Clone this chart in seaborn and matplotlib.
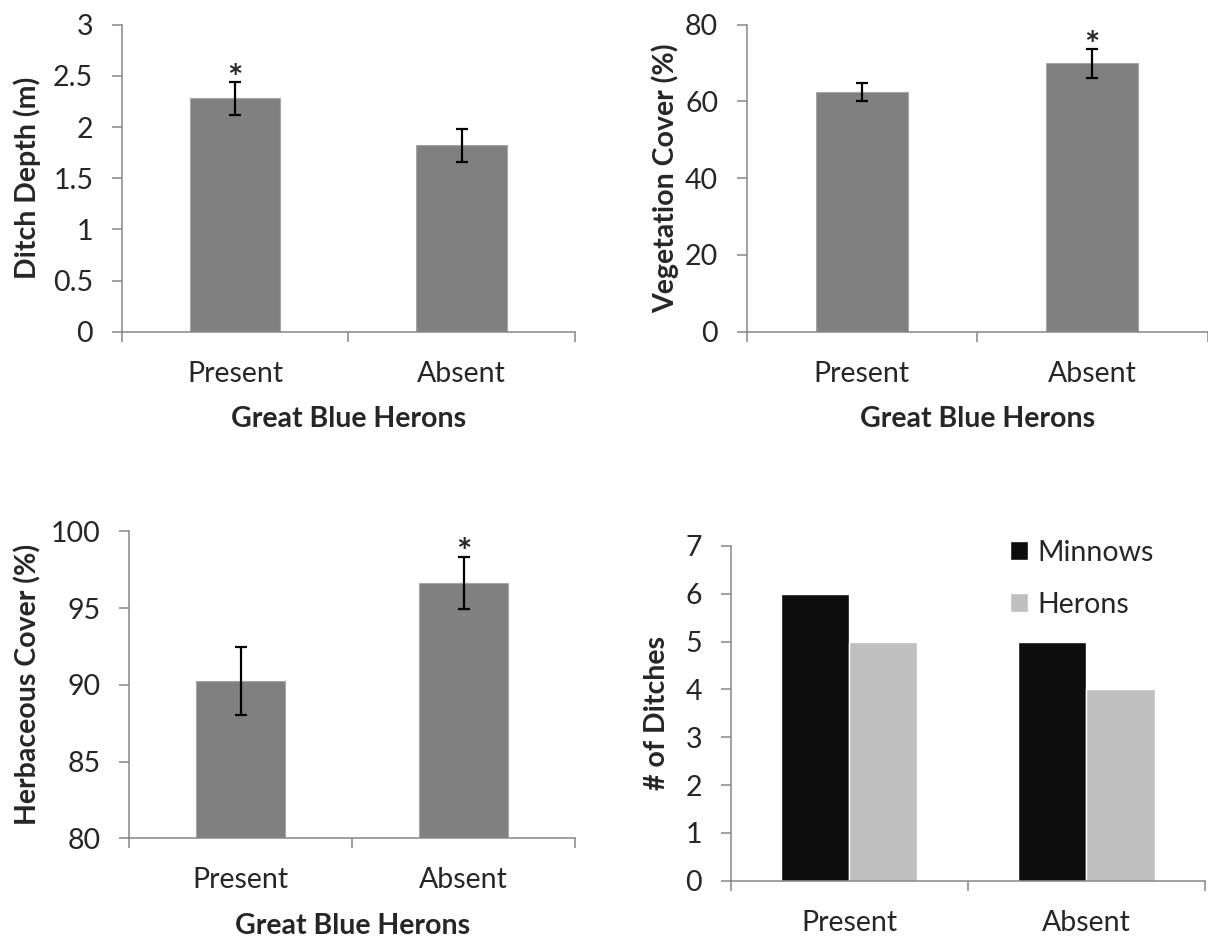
import matplotlib
matplotlib.use("Agg")
import matplotlib.pyplot as plt
import matplotlib.ticker as mticker
import numpy as np
import pandas as pd
import seaborn as sns

# ---------------- data ----------------
categories = ["Present", "Absent"]

depth_mean = [2.28, 1.82]
depth_se = [0.16, 0.165]
depth_sig = [True, False]

veg_mean = [62.5, 69.9]
veg_se = [2.4, 3.7]
veg_sig = [False, True]

herb_mean = [90.25, 96.65]
herb_se = [2.2, 1.7]
herb_sig = [False, True]

minnows_count = [6, 5]
herons_count = [5, 4]
series_names = ["Minnows", "Herons"]

# ---------------- style ----------------
sns.set_style("white")
plt.rcParams["font.family"] = ["Lato", "DejaVu Sans"]
FS = 20.5
SPINE = "#868686"
BAR = "#808080"

fig = plt.figure(figsize=(12.08, 9.41), dpi=100)


def px_axes(left, top, right, bottom):
    W, H = 1208.0, 941.0
    return fig.add_axes([left / W, 1 - bottom / H, (right - left) / W, (bottom - top) / H])


def style_axes(ax, ymin, ymax, ystep, ylabel, ylabel_x, xlabel=None):
    ax.set_ylim(ymin, ymax)
    ax.set_yticks(np.arange(ymin, ymax + ystep / 2, ystep))
    ax.yaxis.set_major_formatter(mticker.FuncFormatter(lambda v, p: f"{v:g}"))
    ax.set_xlim(-0.5, 1.5)
    ax.set_xticks([0, 1])
    ax.set_xticklabels(categories)
    ax.set_xticks([-0.5, 0.5, 1.5], minor=True)
    for s in ["top", "right"]:
        ax.spines[s].set_visible(False)
    for s in ["left", "bottom"]:
        ax.spines[s].set_color(SPINE)
        ax.spines[s].set_linewidth(1.1)
    ax.tick_params(axis="y", which="major", length=7, width=1.1, color=SPINE,
                   direction="out", pad=13.5, labelsize=FS, left=True)
    ax.tick_params(axis="x", which="major", length=0, pad=21, labelsize=FS, bottom=True)
    ax.tick_params(axis="x", which="minor", length=7, width=1.1, color=SPINE,
                   direction="out", bottom=True)
    ax.set_ylabel(ylabel, fontsize=FS, fontweight="bold")
    ax.yaxis.set_label_coords(ylabel_x, 0.5)
    if xlabel:
        ax.set_xlabel(xlabel, fontsize=FS, fontweight="bold", labelpad=14)
    else:
        ax.set_xlabel("")
    ax.grid(False)


def mean_panel(ax, means, ses, sig):
    df = pd.DataFrame({"cat": categories, "val": means})
    sns.barplot(data=df, x="cat", y="val", color=BAR, saturation=1, width=0.4,
                errorbar=None, edgecolor="#a6a6a6", linewidth=0.8, ax=ax)
    ax.errorbar(x=np.arange(len(categories)), y=means, yerr=ses, fmt="none",
                ecolor="black", elinewidth=1.6, capsize=4, capthick=1.6, zorder=5)
    for i, (m, s, g) in enumerate(zip(means, ses, sig)):
        if g:
            ax.annotate("*", xy=(i, m + s), xytext=(0, -5.5), textcoords="offset points",
                        ha="center", va="baseline", fontsize=26, fontweight="bold")


# Panel 1: Ditch depth
ax1 = px_axes(121.7, 24.7, 575, 331.7)
mean_panel(ax1, depth_mean, depth_se, depth_sig)
style_axes(ax1, 0, 3, 0.5, "Ditch Depth (m)", -0.178, "Great Blue Herons")

# Panel 2: Vegetation cover
ax2 = px_axes(746.7, 24.7, 1207.5, 331.7)
mean_panel(ax2, veg_mean, veg_se, veg_sig)
style_axes(ax2, 0, 80, 20, "Vegetation Cover (%)", -0.147, "Great Blue Herons")

# Panel 3: Herbaceous cover
ax3 = px_axes(129.3, 531.3, 575, 838.3)
mean_panel(ax3, herb_mean, herb_se, herb_sig)
style_axes(ax3, 80, 100, 5, "Herbaceous Cover (%)", -0.198, "Great Blue Herons")

# Panel 4: number of ditches
ax4 = px_axes(730.5, 546, 1205, 880.7)
df4 = pd.DataFrame({
    "cat": categories * 2,
    "group": [series_names[0]] * 2 + [series_names[1]] * 2,
    "count": minnows_count + herons_count,
})
sns.barplot(data=df4, x="cat", y="count", hue="group", hue_order=series_names,
            palette=["#0d0d0d", "#bfbfbf"], saturation=1, width=0.575,
            errorbar=None, ax=ax4)
style_axes(ax4, 0, 7, 1, "# of Ditches", -0.1275, None)
handles, labels = ax4.get_legend_handles_labels()
ax4.legend(handles, labels, loc="upper left", bbox_to_anchor=(0.589, 1.018),
           frameon=False, fontsize=FS, handlelength=0.65, handleheight=0.65,
           handletextpad=0.3, labelspacing=0.9, borderpad=0, borderaxespad=0)

fig.savefig("out.png", dpi=100)
